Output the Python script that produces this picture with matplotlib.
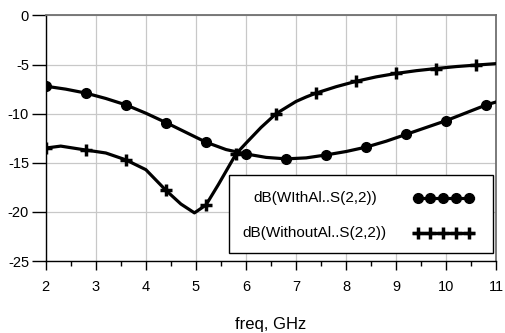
import matplotlib
matplotlib.use("Agg")
import matplotlib.pyplot as plt
from matplotlib.patches import Rectangle
from matplotlib.lines import Line2D

plt.rcParams['font.family'] = ['Liberation Sans', 'DejaVu Sans']

# With Al: dB(S(2,2))
freq_with = [2.0, 2.4, 2.8, 3.2, 3.6, 4.0, 4.4, 4.8, 5.2, 5.6, 6.0, 6.4, 6.8, 7.2, 7.6, 8.0, 8.4,
             8.8, 9.2, 9.6, 10.0, 10.4, 10.8, 11.0]
db_with = [-7.2, -7.5, -7.9, -8.45, -9.1, -9.95, -10.9, -11.9, -12.9, -13.65, -14.1, -14.45,
           -14.6, -14.5, -14.2, -13.85, -13.4, -12.8, -12.1, -11.4, -10.7, -9.9, -9.1, -8.8]
with_marker_freqs = [2.0, 2.8, 3.6, 4.4, 5.2, 6.0, 6.8, 7.6, 8.4, 9.2, 10.0, 10.8]

# Without Al: dB(S(2,2))
freq_without = [2.0, 2.3, 2.8, 3.2, 3.6, 4.0, 4.4, 4.7, 4.97, 5.2, 5.45, 5.8, 6.0, 6.3, 6.6,
                7.0, 7.2, 7.4, 7.8, 8.2, 8.6, 9.0, 9.4, 9.8, 10.2, 10.6, 11.0]
db_without = [-13.5, -13.3, -13.7, -14.0, -14.7, -15.7, -17.8, -19.2, -20.1, -19.3, -17.2, -14.1,
              -13.0, -11.4, -10.0, -8.75, -8.3, -7.9, -7.25, -6.7, -6.25, -5.9, -5.62, -5.4,
              -5.2, -5.05, -4.9]
without_marker_freqs = [2.0, 2.8, 3.6, 4.4, 5.2, 5.8, 6.6, 7.4, 8.2, 9.0, 9.8, 10.6]

labels = ["dB(WIthAl..S(2,2))", "dB(WithoutAl..S(2,2))"]
xticks = [2, 3, 4, 5, 6, 7, 8, 9, 10, 11]
yticks = [0, -5, -10, -15, -20, -25]

fig = plt.figure(figsize=(5.05, 3.33), dpi=100)
ax = fig.add_axes([0.0905, 0.2162, 0.8925, 0.7373])

lw = 2.3
mk_with = [freq_with.index(f) for f in with_marker_freqs]
mk_without = [freq_without.index(f) for f in without_marker_freqs]
ax.plot(freq_with, db_with, color='black', lw=lw, marker='o', markersize=7,
        markevery=mk_with, zorder=3, solid_joinstyle='round')
ax.plot(freq_without, db_without, color='black', lw=lw, marker='+', markersize=8.5,
        markeredgewidth=2.5, markevery=mk_without, zorder=3, solid_joinstyle='round')

ax.set_xlim(2, 11)
ax.set_ylim(-25, 0)
ax.set_xticks(xticks)
ax.set_xticklabels([str(t) for t in xticks])
ax.set_xticks([x + 0.5 for x in xticks[:-1]], minor=True)
ax.set_yticks(yticks)
ax.set_yticklabels([str(t) for t in yticks])

ax.grid(True, which='major', color='#c8c8c8', lw=0.9)
ax.set_axisbelow(True)

for s in ['top', 'right']:
    ax.spines[s].set_color('#707070')
    ax.spines[s].set_linewidth(1.3)
for s in ['left', 'bottom']:
    ax.spines[s].set_color('black')
    ax.spines[s].set_linewidth(1.0)

ax.tick_params(axis='y', which='major', direction='out', length=10, width=1.0,
               pad=2, labelsize=10.5)
ax.tick_params(axis='x', which='major', direction='out', length=6.5, width=1.0,
               pad=7.5, labelsize=10.5)
ax.tick_params(axis='x', which='minor', direction='out', length=3.6, width=1.0)

ax.set_xlabel("freq, GHz", fontsize=12, labelpad=16)

# legend box
ax.add_patch(Rectangle((0.407, 0.033), 0.585, 0.317, transform=ax.transAxes,
                       facecolor='white', edgecolor='black', lw=1.0, zorder=5))
ax.text(0.597, 0.258, labels[0], transform=ax.transAxes, ha='center', va='center',
        fontsize=11, zorder=6)
ax.text(0.597, 0.115, labels[1], transform=ax.transAxes, ha='center', va='center',
        fontsize=11, zorder=6)
sx = [0.825, 0.853, 0.882, 0.910, 0.939]
ax.add_line(Line2D([0.817, 0.947], [0.258, 0.258], transform=ax.transAxes, color='black',
                   lw=lw, zorder=6))
ax.add_line(Line2D(sx, [0.258] * 5, transform=ax.transAxes, color='black', lw=0,
                   marker='o', markersize=7, zorder=7))
ax.add_line(Line2D([0.817, 0.947], [0.115, 0.115], transform=ax.transAxes, color='black',
                   lw=lw, zorder=6))
ax.add_line(Line2D(sx, [0.115] * 5, transform=ax.transAxes, color='black', lw=0,
                   marker='+', markersize=8.5, markeredgewidth=2.5, zorder=7))

fig.savefig("out.png", dpi=100)
